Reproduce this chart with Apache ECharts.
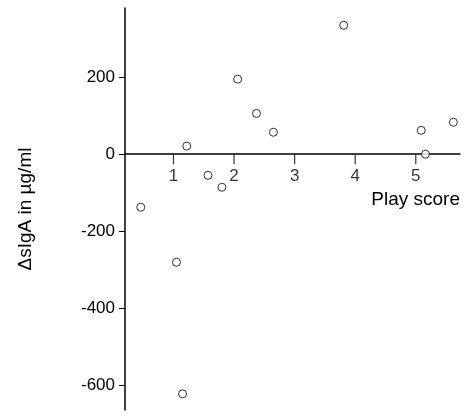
<!DOCTYPE html>
<html><head><meta charset="utf-8">
<script src="https://cdn.jsdelivr.net/npm/echarts@6/dist/echarts.min.js"></script>
<style>html,body{margin:0;background:#fff}#c{width:474px;height:418px}</style>
</head><body><div id="c"></div>
<script>
const playScore = [0.46,1.05,1.15,1.22,1.57,1.80,2.06,2.37,2.65,3.81,5.09,5.16,5.62];
const deltaSIgA = [-138,-281,-623,21,-55,-86,195,106,57,335,62,0,83];
const xTicks = [1,2,3,4,5];
const yTicks = [-600,-400,-200,0,200];
const font = 'Liberation Sans, Arial, sans-serif';
const chart = echarts.init(document.getElementById('c'));
chart.setOption({
  animation:false,
  grid:{left:125,right:14,top:8,bottom:8,outerBoundsMode:'none',containLabel:false},
  xAxis:{type:'value',min:0.2,max:5.73,
    axisLine:{onZero:true,lineStyle:{color:'#000',width:1.5}},
    axisTick:{show:false},
    axisLabel:{show:false},
    splitLine:{show:false}},
  yAxis:{type:'value',min:-665,max:380,
    axisLine:{show:true,onZero:false,lineStyle:{color:'#000',width:1.5}},
    axisTick:{show:true,customValues:yTicks,length:6,lineStyle:{color:'#000'}},
    axisLabel:{customValues:yTicks,color:'#000',fontSize:17,fontFamily:font,margin:10},
    splitLine:{show:false},
    name:'ΔsIgA in µg/ml',nameLocation:'middle',nameGap:90,nameRotate:90,
    nameTextStyle:{color:'#000',fontSize:19,fontFamily:font}},
  graphic:[{type:'text',right:14,top:190,style:{text:'Play score',fill:'#000',fontSize:19,fontFamily:font}}],
  series:[
    {type:'scatter',data:xTicks.map(t=>[t,0]),symbol:'rect',symbolSize:[1.2,10],symbolOffset:[0,5],
      itemStyle:{color:'#000'},silent:true,
      label:{show:true,position:'bottom',distance:4,formatter:p=>p.value[0],color:'#000',fontSize:17,fontFamily:font}},
    {type:'scatter',data:playScore.map((x,i)=>[x,deltaSIgA[i]]),symbol:'circle',symbolSize:8,
    itemStyle:{color:'#fff',borderColor:'#000',borderWidth:1}}]
});
</script></body></html>
